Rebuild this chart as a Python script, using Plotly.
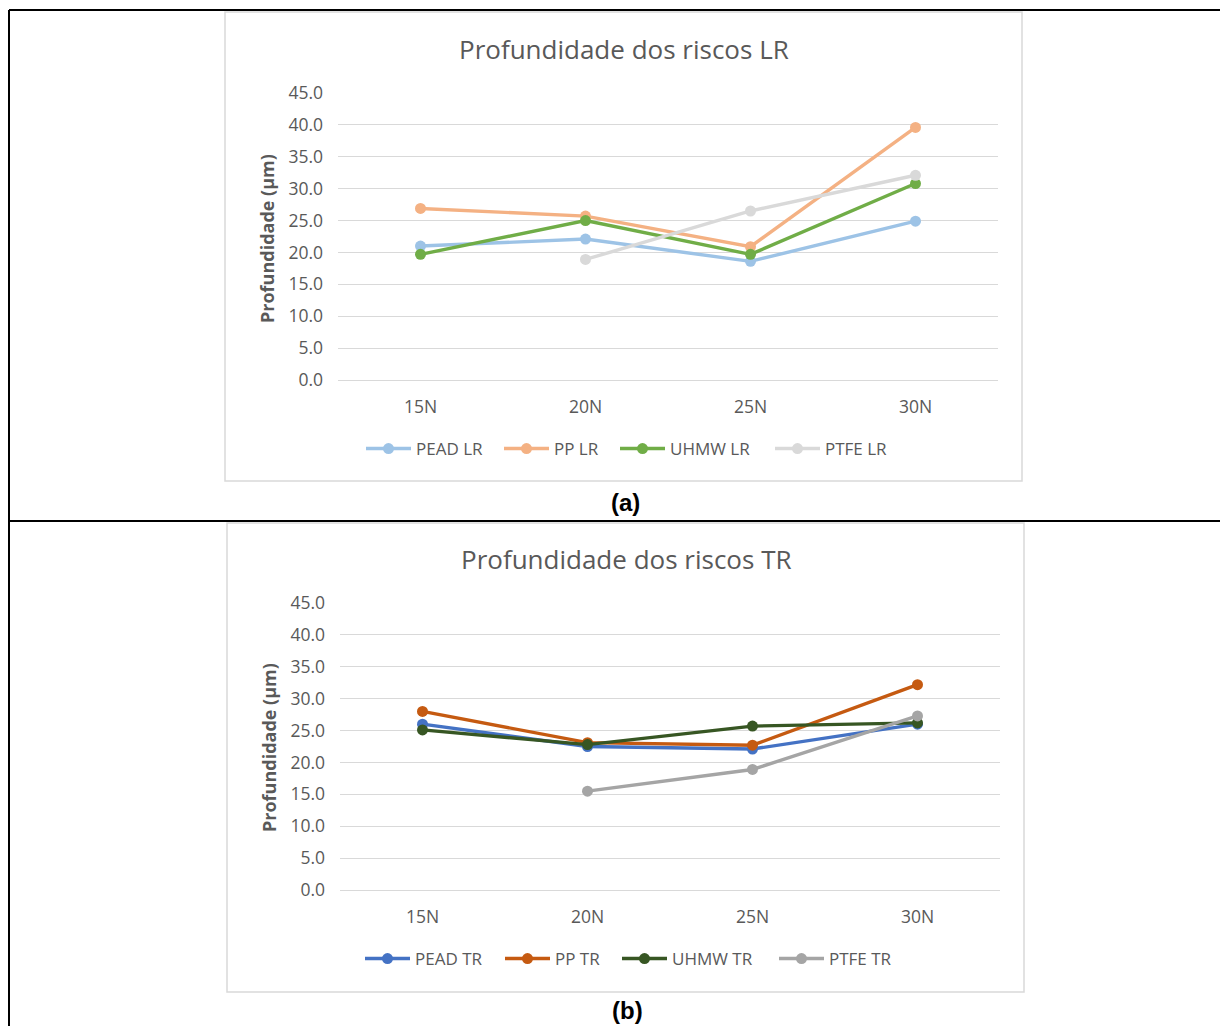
import plotly.graph_objects as go

# page body adds an 8px margin; the figure fills the rest of the 1228x1026 window
OFF = 8
W, H = 1228 - OFF, 1026 - OFF

categories = ["15N", "20N", "25N", "30N"]
y_ticks = [0, 5, 10, 15, 20, 25, 30, 35, 40, 45]

pead_lr = [21.0, 22.1, 18.6, 24.9]
pp_lr = [26.9, 25.7, 20.9, 39.6]
uhmw_lr = [19.7, 25.0, 19.7, 30.8]
ptfe_lr = [None, 18.9, 26.5, 32.1]

pead_tr = [26.0, 22.5, 22.1, 26.0]
pp_tr = [28.0, 23.1, 22.7, 32.2]
uhmw_tr = [25.1, 22.8, 25.7, 26.2]
ptfe_tr = [None, 15.5, 18.9, 27.3]

top_series = [("PEAD LR", pead_lr, "#9DC3E6"), ("PP LR", pp_lr, "#F4B183"),
              ("UHMW LR", uhmw_lr, "#70AD47"), ("PTFE LR", ptfe_lr, "#D9D9D9")]
bot_series = [("PEAD TR", pead_tr, "#4472C4"), ("PP TR", pp_tr, "#C55A11"),
              ("UHMW TR", uhmw_tr, "#375623"), ("PTFE TR", ptfe_tr, "#A5A5A5")]

FONT = "Open Sans"
GREY = "#595959"

def px(x):
    return (x - OFF) / W

def py(y):
    return 1 - (y - OFF) / H

# legend entry start positions (screen px) for each chart
top_leg_x = [367, 505, 621, 776]
bot_leg_x = [366, 506, 623, 780]

fig = go.Figure()
legends = {}
k = 0
for series, lx, ly, xa, ya in [(top_series, top_leg_x, 449, "x", "y"),
                               (bot_series, bot_leg_x, 959, "x2", "y2")]:
    for (name, vals, col), x0 in zip(series, lx):
        k += 1
        lname = "legend" if k == 1 else f"legend{k}"
        fig.add_trace(go.Scatter(x=categories, y=vals, name=name, mode="lines+markers",
                                 line=dict(color=col, width=3.4),
                                 marker=dict(size=11, color=col),
                                 xaxis=xa, yaxis=ya, legend=lname))
        legends[lname] = dict(x=px(x0 - 6), y=py(ly), xanchor="left", yanchor="middle",
                              xref="paper", yref="paper", orientation="h",
                              font=dict(family=FONT, size=17, color=GREY),
                              bgcolor="rgba(0,0,0,0)", itemwidth=45, borderwidth=0)

def yax(domain, anchor):
    return dict(domain=domain, anchor=anchor, range=[0, 45], tickvals=y_ticks,
                tickformat=".1f", showgrid=True, gridcolor="#D9D9D9", gridwidth=1,
                zeroline=False, showline=False, ticks="", ticklabelstandoff=14,
                tickfont=dict(family=FONT, size=17.5, color=GREY), fixedrange=True)

def xax(domain, anchor):
    return dict(domain=domain, anchor=anchor, type="category", range=[-0.5, 3.5],
                showgrid=False, zeroline=False, showline=True, linecolor="#D9D9D9",
                linewidth=1, ticks="", ticklabelstandoff=11,
                tickfont=dict(family=FONT, size=17.5, color=GREY))

shapes = []
# outer table borders
for (x0, y0, x1, y1) in [(9, 10, 1228, 10), (9, 10, 9, 1026), (9, 521, 1228, 521)]:
    shapes.append(dict(type="line", xref="paper", yref="paper", x0=px(x0), y0=py(y0),
                       x1=px(x1), y1=py(y1), line=dict(color="black", width=2)))
# chart boxes
for (x0, y0, x1, y1) in [(225, 12, 1022, 481), (227, 523, 1024, 992)]:
    shapes.append(dict(type="rect", xref="paper", yref="paper", x0=px(x0), y0=py(y0),
                       x1=px(x1), y1=py(y1), line=dict(color="#D9D9D9", width=1.5)))

annotations = [
    dict(text="Profundidade dos riscos LR", x=px(624), y=py(49), xref="paper", yref="paper",
         showarrow=False, font=dict(family=FONT, size=26, color=GREY), xanchor="center", yanchor="middle"),
    dict(text="Profundidade dos riscos TR", x=px(626), y=py(559), xref="paper", yref="paper",
         showarrow=False, font=dict(family=FONT, size=26, color=GREY), xanchor="center", yanchor="middle"),
    dict(text="<b>Profundidade (µm)</b>", x=px(267), y=py(239), xref="paper", yref="paper",
         showarrow=False, textangle=-90, font=dict(family=FONT, size=18, color=GREY),
         xanchor="center", yanchor="middle"),
    dict(text="<b>Profundidade (µm)</b>", x=px(269), y=py(748), xref="paper", yref="paper",
         showarrow=False, textangle=-90, font=dict(family=FONT, size=18, color=GREY),
         xanchor="center", yanchor="middle"),
    dict(text="<b>(a)</b>", x=px(625), y=py(502), xref="paper", yref="paper", showarrow=False,
         font=dict(family="Liberation Sans", size=24, color="black"), xanchor="center", yanchor="middle"),
    dict(text="<b>(b)</b>", x=px(627), y=py(1010), xref="paper", yref="paper", showarrow=False,
         font=dict(family="Liberation Sans", size=24, color="black"), xanchor="center", yanchor="middle"),
]

fig.update_layout(
    width=W, height=H, margin=dict(l=0, r=0, t=0, b=0, pad=0, autoexpand=False),
    paper_bgcolor="white", plot_bgcolor="white",
    xaxis=xax([px(338), px(998)], "y"),
    yaxis=yax([py(380), py(93)], "x"),
    xaxis2=xax([px(340), px(1000)], "y2"),
    yaxis2=yax([py(890), py(603)], "x2"),
    shapes=shapes, annotations=annotations, showlegend=True,
    **legends,
)

fig.write_html("out.html")
